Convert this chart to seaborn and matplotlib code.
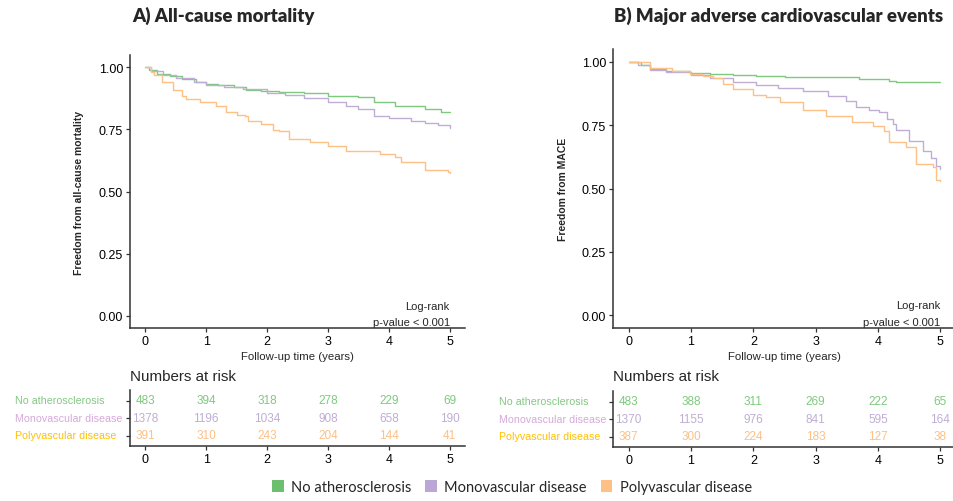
import numpy as np
import pandas as pd
import matplotlib
matplotlib.use("Agg")
import matplotlib.pyplot as plt
import seaborn as sns
from matplotlib.patches import Patch

# ---------------- data ----------------
groups = ["No atherosclerosis", "Monovascular disease", "Polyvascular disease"]
line_colors = ["#7FC97F", "#BEAED4", "#FDC086"]
label_colors = ["#84C784", "#D6A9DA", "#FFC000"]
legend_colors = ["#6DBE6D", "#BBA7D3", "#FDC086"]

# Panel A: all-cause mortality (step curves)
a_none_t = [0, 0.07, 0.2, 0.4, 0.6, 0.83, 1.0, 1.2, 1.45, 1.66, 1.9, 2.2, 2.6, 3.0, 3.5, 3.76, 4.1, 4.6, 4.85, 5.0]
a_none_s = [1.0, 0.99, 0.975, 0.965, 0.955, 0.942, 0.935, 0.928, 0.92, 0.91, 0.905, 0.902, 0.895, 0.884, 0.879, 0.86, 0.845, 0.832, 0.819, 0.819]
a_mono_t = [0, 0.1, 0.3, 0.5, 0.8, 1.0, 1.3, 1.6, 2.0, 2.3, 2.6, 3.0, 3.3, 3.5, 3.76, 4.0, 4.36, 4.6, 4.8, 5.0]
a_mono_s = [1.0, 0.985, 0.97, 0.958, 0.94, 0.93, 0.922, 0.912, 0.897, 0.89, 0.878, 0.86, 0.845, 0.832, 0.805, 0.798, 0.785, 0.776, 0.766, 0.754]
a_poly_t = [0, 0.1, 0.15, 0.28, 0.45, 0.6, 0.67, 0.9, 1.16, 1.33, 1.5, 1.63, 1.68, 1.9, 2.09, 2.2, 2.36, 2.7, 3.0, 3.3, 3.85, 4.1, 4.2, 4.6, 4.97, 5.0]
a_poly_s = [1.0, 0.98, 0.97, 0.94, 0.91, 0.885, 0.872, 0.862, 0.845, 0.82, 0.81, 0.805, 0.785, 0.77, 0.749, 0.742, 0.711, 0.70, 0.684, 0.664, 0.651, 0.638, 0.617, 0.588, 0.577, 0.573]

# Panel B: MACE
b_none_t = [0, 0.2, 0.34, 0.6, 0.98, 1.3, 1.67, 2.05, 2.5, 2.9, 3.7, 4.18, 4.29, 5.0]
b_none_s = [1.0, 0.985, 0.971, 0.962, 0.954, 0.951, 0.948, 0.942, 0.941, 0.938, 0.932, 0.925, 0.919, 0.918]
b_mono_t = [0, 0.15, 0.34, 0.6, 1.0, 1.3, 1.67, 2.05, 2.4, 2.8, 3.2, 3.49, 3.65, 3.85, 4.02, 4.15, 4.24, 4.29, 4.5, 4.72, 4.85, 4.93, 5.0]
b_mono_s = [1.0, 0.985, 0.967, 0.958, 0.948, 0.935, 0.919, 0.91, 0.898, 0.885, 0.865, 0.846, 0.82, 0.808, 0.80, 0.775, 0.754, 0.73, 0.688, 0.649, 0.62, 0.589, 0.576]
b_poly_t = [0, 0.34, 0.7, 0.98, 1.2, 1.35, 1.51, 1.67, 1.99, 2.2, 2.42, 2.79, 3.17, 3.59, 3.92, 4.1, 4.18, 4.45, 4.61, 4.88, 4.93, 5.0]
b_poly_s = [1.0, 0.975, 0.962, 0.952, 0.945, 0.935, 0.912, 0.892, 0.87, 0.86, 0.843, 0.809, 0.787, 0.761, 0.747, 0.728, 0.682, 0.662, 0.596, 0.583, 0.533, 0.53]

risk_times = [0, 1, 2, 3, 4, 5]
a_risk_none = [483, 394, 318, 278, 229, 69]
a_risk_mono = [1378, 1196, 1034, 908, 658, 190]
a_risk_poly = [391, 310, 243, 204, 144, 41]
b_risk_none = [483, 388, 311, 269, 222, 65]
b_risk_mono = [1370, 1155, 976, 841, 595, 164]
b_risk_poly = [387, 300, 224, 183, 127, 38]

x_ticks = [0, 1, 2, 3, 4, 5]
y_ticks = [0.0, 0.25, 0.5, 0.75, 1.0]
y_ticklabels = ["0.00", "0.25", "0.50", "0.75", "1.00"]

# ---------------- style ----------------
sns.set_theme(style="ticks")
plt.rcParams["font.family"] = ["Liberation Sans", "DejaVu Sans"]
plt.rcParams["axes.edgecolor"] = "#333333"

W, H = 954, 502
fig = plt.figure(figsize=(W / 100, H / 100), dpi=100)


def fax(x0, y0, x1, y1):
    return fig.add_axes([x0 / W, 1 - y1 / H, (x1 - x0) / W, (y1 - y0) / H])


def km_df(ts, ss):
    rows = []
    for g, t, s in zip(groups, ts, ss):
        for ti, si in zip(t, s):
            rows.append((g, ti, si))
    return pd.DataFrame(rows, columns=["group", "time", "surv"])


def style_axis(ax):
    for sp in ["top", "right"]:
        ax.spines[sp].set_visible(False)
    for sp in ["left", "bottom"]:
        ax.spines[sp].set_linewidth(1.1)
        ax.spines[sp].set_color("#333333")
    ax.tick_params(length=3, width=0.9, labelsize=9, colors="#333333", labelcolor="black", pad=2)


panels = [
    dict(box=(130, 56, 465, 329), tbox=(130, 391, 465, 447),
         ts=[a_none_t, a_mono_t, a_poly_t], ss=[a_none_s, a_mono_s, a_poly_s],
         risk=[a_risk_none, a_risk_mono, a_risk_poly],
         ylabel="Freedom from all-cause mortality", ylab_x=-0.138,
         title="A) All-cause mortality", title_x=223, lab_x=15),
    dict(box=(613, 50, 956, 329), tbox=(613, 392, 956, 448),
         ts=[b_none_t, b_mono_t, b_poly_t], ss=[b_none_s, b_mono_s, b_poly_s],
         risk=[b_risk_none, b_risk_mono, b_risk_poly],
         ylabel="Freedom from MACE", ylab_x=-0.13,
         title="B) Major adverse cardiovascular events", title_x=779, lab_x=499),
]

for p in panels:
    ax = fax(*p["box"])
    df = km_df(p["ts"], p["ss"])
    sns.lineplot(data=df, x="time", y="surv", hue="group", hue_order=groups,
                 palette=line_colors, drawstyle="steps-post", estimator=None,
                 linewidth=1.0, legend=False, ax=ax)
    ax.set_xlim(-0.25, 5.25)
    ax.set_ylim(-0.05, 1.05)
    ax.set_xticks(x_ticks)
    ax.set_yticks(y_ticks)
    ax.set_yticklabels(y_ticklabels)
    style_axis(ax)
    ax.set_xlabel("Follow-up time (years)", fontsize=8.2, labelpad=3)
    ax.set_ylabel(p["ylabel"], fontsize=7.5, fontweight="bold")
    ax.yaxis.set_label_coords(p["ylab_x"], 0.5)
    ax.text(5, 0.04, "Log-rank", ha="right", va="center", fontsize=8)
    ax.text(5, -0.027, "p-value < 0.001", ha="right", va="center", fontsize=8)

    fig.text(p["title_x"] / W, 1 - 16 / H, p["title"], ha="center", va="center",
             fontsize=13.4, fontweight="heavy", family=["Lato", "DejaVu Sans"])

    # risk table
    tx = fax(*p["tbox"])
    tx.set_xlim(-0.25, 5.25)
    tx.set_ylim(-0.6, 2.6)
    rows_y = [2, 1, 0]
    for vals, yv, c in zip(p["risk"], rows_y, line_colors):
        for t, v in zip(risk_times, vals):
            tx.text(t, yv, str(v), ha="center", va="center", fontsize=8.5, color=c)
    tx.set_xticks(x_ticks)
    tx.set_yticks(rows_y)
    tx.set_yticklabels([])
    style_axis(tx)
    for g, yv, c in zip(groups, rows_y, label_colors):
        tx.text((p["lab_x"] - p["tbox"][0]) / (p["tbox"][2] - p["tbox"][0]), yv, g,
                transform=tx.get_yaxis_transform(), ha="left", va="center",
                fontsize=7.7, color=c)
    fig.text(p["tbox"][0] / W, 1 - 377 / H, "Numbers at risk", ha="left", va="center",
             fontsize=10.9)

handles = [Patch(facecolor=c, edgecolor="none") for c in legend_colors]
fig.legend(handles, groups, loc="center", bbox_to_anchor=(512 / W, 1 - 488 / H), ncol=3,
           frameon=False, handlelength=0.8, handleheight=0.8,
           handletextpad=0.5, columnspacing=0.95,
           prop={"family": ["Lato", "DejaVu Sans"], "size": 10.5})

fig.savefig("out.png", dpi=100)
